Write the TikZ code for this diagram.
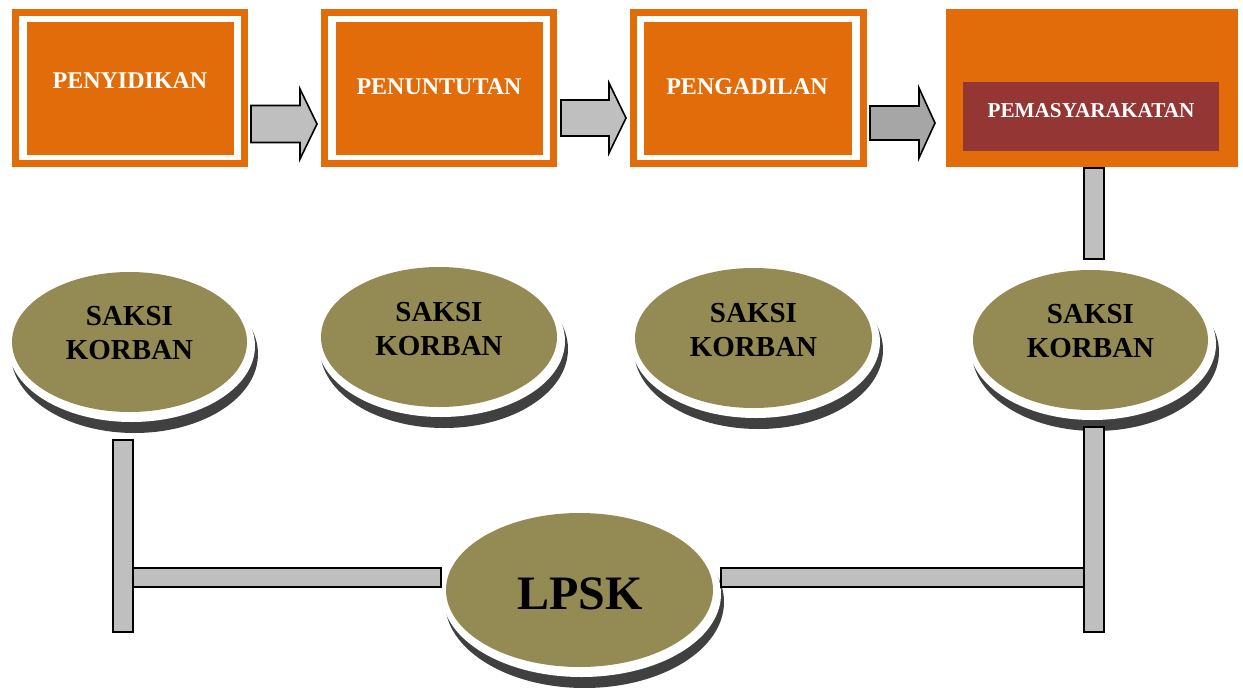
\documentclass[tikz,border=0pt]{standalone}
\usepackage{fontspec}
\setmainfont{Liberation Serif}
\usetikzlibrary{shapes.geometric,calc}
\definecolor{orng}{HTML}{E36C0A}
\definecolor{dred}{HTML}{943634}
\definecolor{olv}{HTML}{948A54}
\definecolor{shdw}{HTML}{404040}
\definecolor{barg}{HTML}{BFBFBF}
\definecolor{arrg}{HTML}{A6A6A6}
\newcommand\ovalshape[6]{%
  \fill[shdw] (#2+5,#3+12) ellipse [x radius=#4+6, y radius=#5+9];
  \fill[white] (#2+2,#3+4) ellipse [x radius=#4+6, y radius=#5+6];
  \node[ellipse, fill=olv, minimum width=2*#4, minimum height=2*#5, inner sep=0pt] (#1) at (#2,#3) {};
}
\newcommand\bkarrow[7]{%
  \draw[arrowline, fill=#7] (#1,#4-#5) -- (#2,#4-#5) -- (#2,#4-#6) -- (#3,#4) -- (#2,#4+#6) -- (#2,#4+#5) -- (#1,#4+#5) -- cycle;
}
\begin{document}
\begin{tikzpicture}[x=1pt,y=-1pt,
  frame/.style={draw=orng, line width=7pt, fill=white, inner sep=0pt},
  innerbox/.style={fill=orng, inner sep=0pt},
  boxtext/.style={text=white, font=\fontsize{24}{28}\selectfont\bfseries, inner sep=0pt},
  saksi/.style={align=center, font=\fontsize{29}{34}\selectfont\bfseries, inner sep=0pt},
  bar/.style={draw=black, fill=barg, line width=1.3pt, inner sep=0pt},
  arrowline/.style={draw=black, line width=1.6pt, line join=miter}]
\useasboundingbox (0,0) rectangle (1243,688);
\clip (0,0) rectangle (1243,688);

% process boxes
\node[frame, minimum width=229pt, minimum height=151pt] (b1) at (130,88) {};
\node[innerbox, minimum width=207pt, minimum height=133pt] (b1i) at (130.5,88.5) {};
\node[boxtext] (t1) at (130,81) {PENYIDIKAN};

\node[frame, minimum width=229pt, minimum height=151pt] (b2) at (439,88) {};
\node[innerbox, minimum width=207pt, minimum height=133pt] (b2i) at (439.5,88.5) {};
\node[boxtext] (t2) at (439,87) {PENUNTUTAN};

\node[frame, minimum width=230pt, minimum height=151pt] (b3) at (748.5,88) {};
\node[innerbox, minimum width=208pt, minimum height=133pt] (b3i) at (748,88.5) {};
\node[boxtext] (t3) at (747,86.5) {PENGADILAN};

\node[innerbox, minimum width=292pt, minimum height=158pt] (b4) at (1092,88) {};
\node[fill=dred, inner sep=0pt, minimum width=256pt, minimum height=69pt] (b4i) at (1091,116.5) {};
\node[text=white, font=\fontsize{21.2}{25}\selectfont\bfseries, inner sep=0pt] (t4) at (1091,110.5) {PEMASYARAKATAN};

% block arrows
\bkarrow{251}{300}{317}{124}{18.5}{35}{barg}
\bkarrow{561}{609}{626}{118}{18}{35}{barg}
\bkarrow{870}{919}{935}{123}{17}{35}{arrg}

% ellipses
\ovalshape{e1}{129.5}{342}{117.5}{70}{}
\ovalshape{e2}{439}{337}{118}{70}{}
\ovalshape{e3}{753.5}{338}{118.5}{70}{}
\ovalshape{e4}{1090.5}{340}{117.5}{70}{}
\ovalshape{lp}{579.5}{590}{133.5}{77}{}

\node[saksi] (s1) at (129.5,333) {SAKSI\\KORBAN};
\node[saksi] (s2) at (439,329.5) {SAKSI\\KORBAN};
\node[saksi] (s3) at (753.5,330.5) {SAKSI\\KORBAN};
\node[saksi] (s4) at (1090.5,331.5) {SAKSI\\KORBAN};
\node[font=\fontsize{48}{52}\selectfont\bfseries, inner sep=0pt] (lt) at (580,594) {LPSK};

% connector bars
\node[bar, minimum width=308pt, minimum height=19pt] (h1) at (287,577.5) {};
\node[bar, minimum width=364pt, minimum height=19pt] (h2) at (903,577.5) {};
\node[bar, minimum width=20pt, minimum height=192pt] (v1) at (123,536) {};
\node[bar, minimum width=20pt, minimum height=205pt] (v2) at (1094,529.5) {};
\node[bar, minimum width=20pt, minimum height=91pt] (v3) at (1094,213.5) {};
\end{tikzpicture}
\end{document}
